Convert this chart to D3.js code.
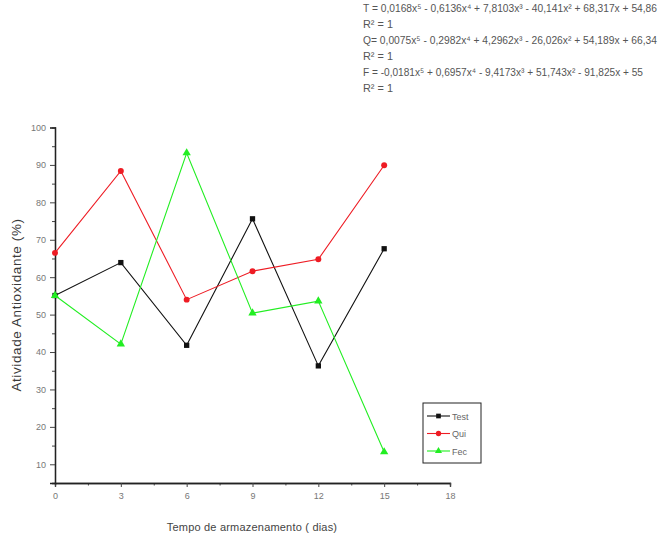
<!DOCTYPE html>
<html>
<head>
<meta charset="utf-8">
<script src="https://cdn.jsdelivr.net/npm/d3@7"></script>
<style>
  html, body { margin: 0; padding: 0; background: #fff; }
  svg { display: block; }
  text { font-family: "Liberation Sans", Arial, sans-serif; }
</style>
</head>
<body>
<svg id="chart" width="668" height="539"></svg>
<script>
// Storage days
const days = [0, 3, 6, 9, 12, 15];

// Antioxidant activity (%) per treatment
const testValues = [55.1, 63.9, 41.8, 75.6, 36.3, 67.6];
const quiValues  = [66.5, 88.4, 54.0, 61.6, 64.8, 89.9];
const fecValues  = [55.1, 42.1, 93.2, 50.4, 53.6, 13.3];

const seriesNames = ["Test", "Qui", "Fec"];
const seriesColors = ["#111111", "#ee1c24", "#22ee22"];

const xTicks = [0, 3, 6, 9, 12, 15, 18];
const yTicks = [10, 20, 30, 40, 50, 60, 70, 80, 90, 100];

// Fitted polynomial equations
const equations = [
  "T = 0,0168x⁵ - 0,6136x⁴ + 7,8103x³ - 40,141x² + 68,317x + 54,86",
  "R² = 1",
  "Q= 0,0075x⁵ - 0,2982x⁴ + 4,2962x³ - 26,026x² + 54,189x + 66,34",
  "R² = 1",
  "F = -0,0181x⁵ + 0,6957x⁴ - 9,4173x³ + 51,743x² - 91,825x + 55",
  "R² = 1"
];

const svg = d3.select("#chart");

const x = d3.scaleLinear().domain([0, 18]).range([55, 450]);
const y = d3.scaleLinear().domain([5, 100]).range([483, 127.5]);

// Axes
const xAxis = d3.axisBottom(x).tickValues(xTicks).tickSize(4).tickPadding(6).tickFormat(d3.format("d"));
const xMinor = d3.axisBottom(x).tickValues(d3.range(1.5, 18, 3)).tickSize(2.5).tickFormat("");
const yAxis = d3.axisLeft(y).tickValues(yTicks).tickSize(5).tickPadding(4).tickFormat(d3.format("d"));
const yMinor = d3.axisLeft(y).tickValues(d3.range(15, 100, 10)).tickSize(3).tickFormat("");

function styleAxis(g) {
  g.select(".domain").attr("stroke", "#222").attr("stroke-width", 1.3);
  g.selectAll(".tick line").attr("stroke", "#444").attr("stroke-width", 1);
  g.selectAll(".tick text").attr("fill", "#777").attr("font-size", 9)
    .attr("font-family", "'Liberation Sans', Arial, sans-serif");
}

svg.append("g").attr("transform", "translate(0,483)").call(xMinor).call(styleAxis);
svg.append("g").attr("transform", "translate(0,483)").call(xAxis).call(styleAxis);
svg.append("g").attr("transform", "translate(55,0)").call(yMinor).call(styleAxis);
svg.append("g").attr("transform", "translate(55,0)").call(yAxis).call(styleAxis);

// Axis titles
svg.append("text")
  .attr("x", 252).attr("y", 531)
  .attr("text-anchor", "middle")
  .attr("font-size", 11).attr("fill", "#444")
  .attr("letter-spacing", 0.2)
  .text("Tempo de armazenamento ( dias)");

svg.append("text")
  .attr("transform", "translate(21,305) rotate(-90)")
  .attr("text-anchor", "middle")
  .attr("font-size", 13.5).attr("fill", "#3a3a3a")
  .attr("letter-spacing", 0.6)
  .text("Atividade Antioxidante (%)");

// Series
const data = [testValues, quiValues, fecValues].map((vals, i) => ({
  name: seriesNames[i],
  color: seriesColors[i],
  points: days.map((d, j) => ({ day: d, value: vals[j] }))
}));

const line = d3.line().x(d => x(d.day)).y(d => y(d.value));

const symbols = [d3.symbolSquare, d3.symbolCircle, d3.symbolTriangle];

data.forEach((s, i) => {
  svg.append("path")
    .datum(s.points)
    .attr("fill", "none")
    .attr("stroke", s.color)
    .attr("stroke-width", 1.1)
    .attr("d", line);

  svg.selectAll(null)
    .data(s.points)
    .enter().append("path")
    .attr("transform", d => `translate(${x(d.day)},${y(d.value)})`)
    .attr("d", d3.symbol().type(symbols[i]).size(i === 2 ? 30 : 28))
    .attr("fill", s.color);
});

// Legend
const legend = svg.append("g");
legend.append("rect")
  .attr("x", 423).attr("y", 403).attr("width", 58).attr("height", 60)
  .attr("fill", "#fff").attr("stroke", "#222").attr("stroke-width", 1);

data.forEach((s, i) => {
  const ly = 416 + i * 17.5;
  legend.append("line")
    .attr("x1", 427).attr("x2", 450).attr("y1", ly).attr("y2", ly)
    .attr("stroke", s.color).attr("stroke-width", 1.1);
  legend.append("path")
    .attr("transform", `translate(438.5,${ly})`)
    .attr("d", d3.symbol().type(symbols[i]).size(22))
    .attr("fill", s.color);
  legend.append("text")
    .attr("x", 452).attr("y", ly + 3.5)
    .attr("font-size", 9).attr("fill", "#666")
    .text(s.name);
});

// Regression equations
const eqGroup = svg.append("g");
equations.forEach((t, i) => {
  const el = eqGroup.append("text")
    .attr("x", 363).attr("y", 12 + i * 16)
    .attr("font-size", 10.5).attr("fill", "#555")
    .attr("font-family", "'Liberation Sans Narrow', 'DejaVu Sans Condensed', Arial, sans-serif")
    .text(t);
  if (t.length > 20) {
    el.attr("textLength", i === 4 ? 280 : 294).attr("lengthAdjust", "spacingAndGlyphs");
  } else {
    el.attr("textLength", 30).attr("lengthAdjust", "spacingAndGlyphs");
  }
});
</script>
</body>
</html>
